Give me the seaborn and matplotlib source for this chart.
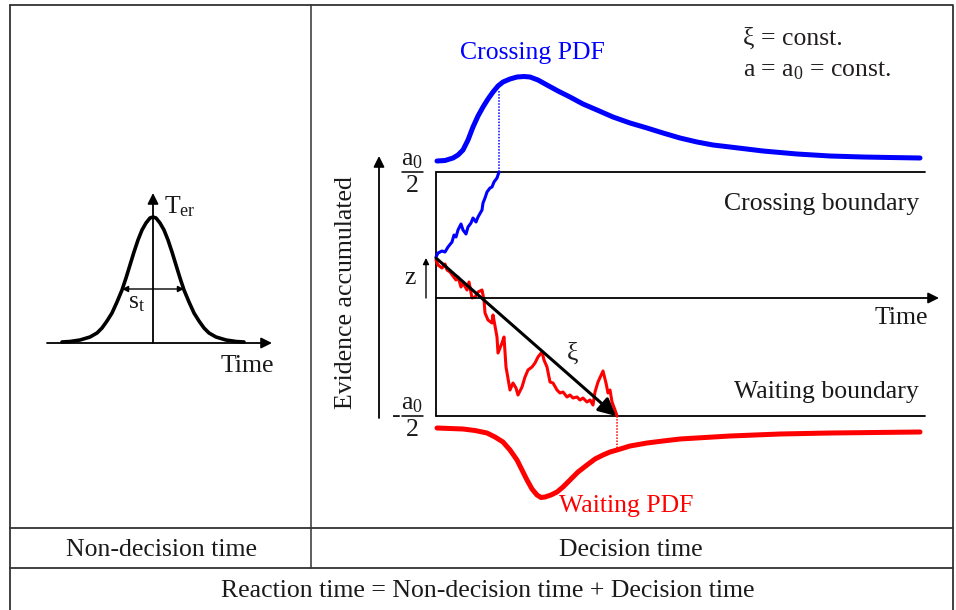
import matplotlib
matplotlib.use('Agg')
import matplotlib.pyplot as plt
import numpy as np
import pandas as pd
import seaborn as sns

# curves, in pixel coordinates (y grows downward)
gauss_x = [62, 70, 80, 90, 97, 102, 107, 112, 117, 122, 126, 130, 134, 138,
           142, 146, 150, 153, 156, 160, 164, 168, 172, 176, 180, 184, 189,
           194, 199, 204, 209, 216, 226, 236, 244]
gauss_y = [342, 341.5, 340, 337, 333, 328, 321, 313, 302, 290, 278, 265, 252,
           240, 230, 223, 218, 217, 218, 223, 230, 240, 252, 265, 278, 290,
           302, 313, 321, 328, 333, 337, 340, 341.5, 342]

cross_pdf_x = [437, 445, 453, 458, 463, 468, 473, 478, 483, 488, 493, 498,
               503, 510, 517, 524, 530, 538, 547, 558, 570, 583, 597, 613,
               630, 647, 663, 680, 697, 713, 730, 763, 797, 830, 863, 890, 920]
cross_pdf_y = [161, 160.5, 158, 155, 150, 140, 127, 116, 107, 99, 92, 86,
               82, 79, 77, 76.5, 77, 80, 85, 91, 97, 104, 110, 117,
               123, 128, 133, 138, 142, 145, 147, 151, 154, 156, 157, 157.5, 158]

wait_pdf_x = [437, 450, 463, 475, 487, 495, 503, 510, 517, 522, 527, 532,
              537, 541, 545, 551, 557, 563, 570, 578, 587, 595, 603, 610,
              617, 630, 647, 663, 680, 705, 730, 780, 830, 875, 920]
wait_pdf_y = [428, 428.5, 429, 430.5, 433, 437, 442, 450, 460, 470, 480, 489,
              495, 497.5, 497, 495, 492, 487, 480, 472, 465, 459, 455, 452,
              450, 446, 443, 441, 439, 437.5, 436, 434, 433, 432.5, 432]

cross_walk_x = [436, 438, 442, 445, 448, 452, 454, 456, 458, 461, 463, 466,
                468, 471, 473, 476, 478, 482, 483, 485, 487, 490, 492, 494,
                497, 499]
cross_walk_y = [257, 253, 251, 252, 247, 242, 235, 237, 230, 224, 230, 234,
                227, 223, 218, 222, 217, 210, 203, 198, 192, 188, 187, 182,
                178, 172]

wait_walk_x = [436, 438, 442, 445, 447, 450, 453, 456, 458, 461, 463, 467,
               469, 472, 475, 478, 482, 484, 485, 488, 492, 493, 497, 498,
               502, 504, 506, 510, 513, 516, 518, 522, 525, 528, 532, 535,
               538, 542, 544, 547, 550, 553, 557, 560, 563, 567, 570, 573,
               577, 580, 583, 587, 590, 593, 595, 598, 603, 606, 608, 610,
               612, 615, 617]
wait_walk_y = [260, 265, 268, 264, 270, 272, 276, 280, 277, 287, 283, 290,
               282, 298, 297, 292, 290, 300, 313, 320, 323, 315, 337, 353,
               343, 337, 367, 390, 383, 388, 395, 387, 377, 370, 367, 363,
               357, 352, 360, 367, 382, 383, 390, 393, 392, 397, 395, 398,
               397, 400, 398, 402, 400, 405, 392, 382, 371, 383, 393, 390,
               402, 410, 416]

crossing_time = 499
waiting_time = 617
start_level = 258
upper_bound = 172
lower_bound = 416
mid_level = 298

sns.set_theme(style='white')
plt.rcParams['font.family'] = ['Liberation Serif', 'DejaVu Serif']
plt.rcParams['mathtext.fontset'] = 'custom'
plt.rcParams['mathtext.rm'] = 'Liberation Serif'
plt.rcParams['mathtext.it'] = 'Liberation Serif:italic'
plt.rcParams['lines.solid_joinstyle'] = 'round'
plt.rcParams['lines.solid_capstyle'] = 'round'

fig = plt.figure(figsize=(9.56, 6.10), dpi=100)
ax = fig.add_axes([0, 0, 1, 1])
ax.set_xlim(0, 956)
ax.set_ylim(610, 0)
ax.axis('off')

fs = 18.5
frame = '#333333'
ink = '#1a1a1a'

# table frame
ax.plot([10, 953, 953], [5, 5, 612], color=frame, lw=1.3)
ax.plot([10, 10], [5, 612], color=frame, lw=1.3)
ax.plot([311, 311], [5, 568], color=frame, lw=1.1)
ax.plot([10, 953], [528, 528], color=frame, lw=1.3)
ax.plot([10, 953], [568, 568], color=frame, lw=1.3)

ax.text(162, 550, 'Non-decision time', ha='center', va='center', fontsize=fs,
        color=ink)
ax.text(631, 550, 'Decision time', ha='center', va='center', fontsize=fs,
        color=ink)
ax.text(488, 591, 'Reaction time = Non-decision time + Decision time',
        ha='center', va='center', fontsize=fs, color=ink)

# left panel: non-decision time distribution
arrow = dict(arrowstyle='-|>', color='black', lw=1.3, mutation_scale=16,
             shrinkA=0, shrinkB=0)
ax.annotate('', xy=(272, 343), xytext=(47, 343), arrowprops=arrow)
ax.annotate('', xy=(153, 193), xytext=(153, 343), arrowprops=arrow)
sns.lineplot(x=gauss_x, y=gauss_y, sort=False, estimator=None, ax=ax,
             color='black', lw=2.6)
ax.annotate('', xy=(122, 289), xytext=(184, 289),
            arrowprops=dict(arrowstyle='<|-|>', color='black', lw=1.0,
                            mutation_scale=9, shrinkA=0, shrinkB=0))
ax.text(164, 207, r'T$_{\mathrm{er}}$', ha='left', va='center', fontsize=fs,
        color=ink)
ax.text(128, 303, r's$_{\mathrm{t}}$', ha='left', va='center', fontsize=fs,
        color=ink)
ax.text(247, 366, 'Time', ha='center', va='center', fontsize=fs, color=ink)

# right panel: diffusion model
ax.annotate('', xy=(379, 156), xytext=(379, 418), arrowprops=arrow)
ax.text(346, 293, 'Evidence accumulated', rotation=90, ha='center',
        va='center', fontsize=fs, color=ink)

ax.plot([436, 436], [upper_bound, lower_bound], color='black', lw=1.3)
ax.plot([436, 925], [upper_bound, upper_bound], color='black', lw=1.3)
ax.plot([436, 925], [lower_bound, lower_bound], color='black', lw=1.3)
ax.annotate('', xy=(939, mid_level), xytext=(436, mid_level), arrowprops=arrow)

ax.text(919, 204, 'Crossing boundary', ha='right', va='center', fontsize=fs,
        color=ink)
ax.text(928, 318, 'Time', ha='right', va='center', fontsize=fs, color=ink)
ax.text(919, 392, 'Waiting boundary', ha='right', va='center', fontsize=fs,
        color=ink)

# boundary labels a0/2 and -a0/2
for yb, sign in [(upper_bound, ''), (lower_bound, '-')]:
    ax.text(412, yb - 12, r'a$_0$', ha='center', va='center', fontsize=fs,
            color=ink)
    ax.plot([402, 423], [yb, yb], color='black', lw=1.1)
    ax.text(412, yb + 14, '2', ha='center', va='center', fontsize=fs,
            color=ink)
    if sign:
        ax.text(396, yb, sign, ha='center', va='center', fontsize=fs,
                color=ink)

# starting point z
ax.annotate('', xy=(426, 258), xytext=(426, 298),
            arrowprops=dict(arrowstyle='-|>', color='black', lw=1.0,
                            mutation_scale=9, shrinkA=0, shrinkB=0))
ax.text(410, 278, 'z', ha='center', va='center', fontsize=fs, color=ink)

# PDFs
sns.lineplot(x=cross_pdf_x, y=cross_pdf_y, sort=False, estimator=None,
             ax=ax, color='#0000ff', lw=3.6)
sns.lineplot(x=wait_pdf_x, y=wait_pdf_y, sort=False, estimator=None,
             ax=ax, color='#ff0000', lw=3.6)
ax.plot([crossing_time, crossing_time], [upper_bound, 90], color='#0000ff',
        lw=1.1, ls=(0, (1, 1)))
ax.plot([waiting_time, waiting_time], [lower_bound, 450], color='#ff0000',
        lw=1.1, ls=(0, (1, 1)))
ax.text(532, 53, 'Crossing PDF', ha='center', va='center', fontsize=fs,
        color='#0000ff')
ax.text(626, 506, 'Waiting PDF', ha='center', va='center', fontsize=fs,
        color='#ff0000')

# sample paths
sns.lineplot(x=cross_walk_x, y=cross_walk_y, sort=False, estimator=None,
             ax=ax, color='#0000ff', lw=2.2)
sns.lineplot(x=wait_walk_x, y=wait_walk_y, sort=False, estimator=None,
             ax=ax, color='#ff0000', lw=2.2)

# drift
ax.annotate('', xy=(waiting_time - 1, lower_bound), xytext=(436, start_level),
            arrowprops=dict(arrowstyle='-|>', color='black', lw=2.2,
                            mutation_scale=26, shrinkA=0, shrinkB=0))
ax.text(573, 354, 'ξ', ha='center', va='center', fontsize=fs,
        color='#231f20')

ax.text(743, 39, 'ξ = const.', ha='left', va='center', fontsize=fs,
        color='#231f20')
ax.text(743, 71, r'a = a$_0$ = const.', ha='left', va='center', fontsize=fs,
        color='#231f20')

fig.savefig('out.png', dpi=100)
plt.close(fig)
